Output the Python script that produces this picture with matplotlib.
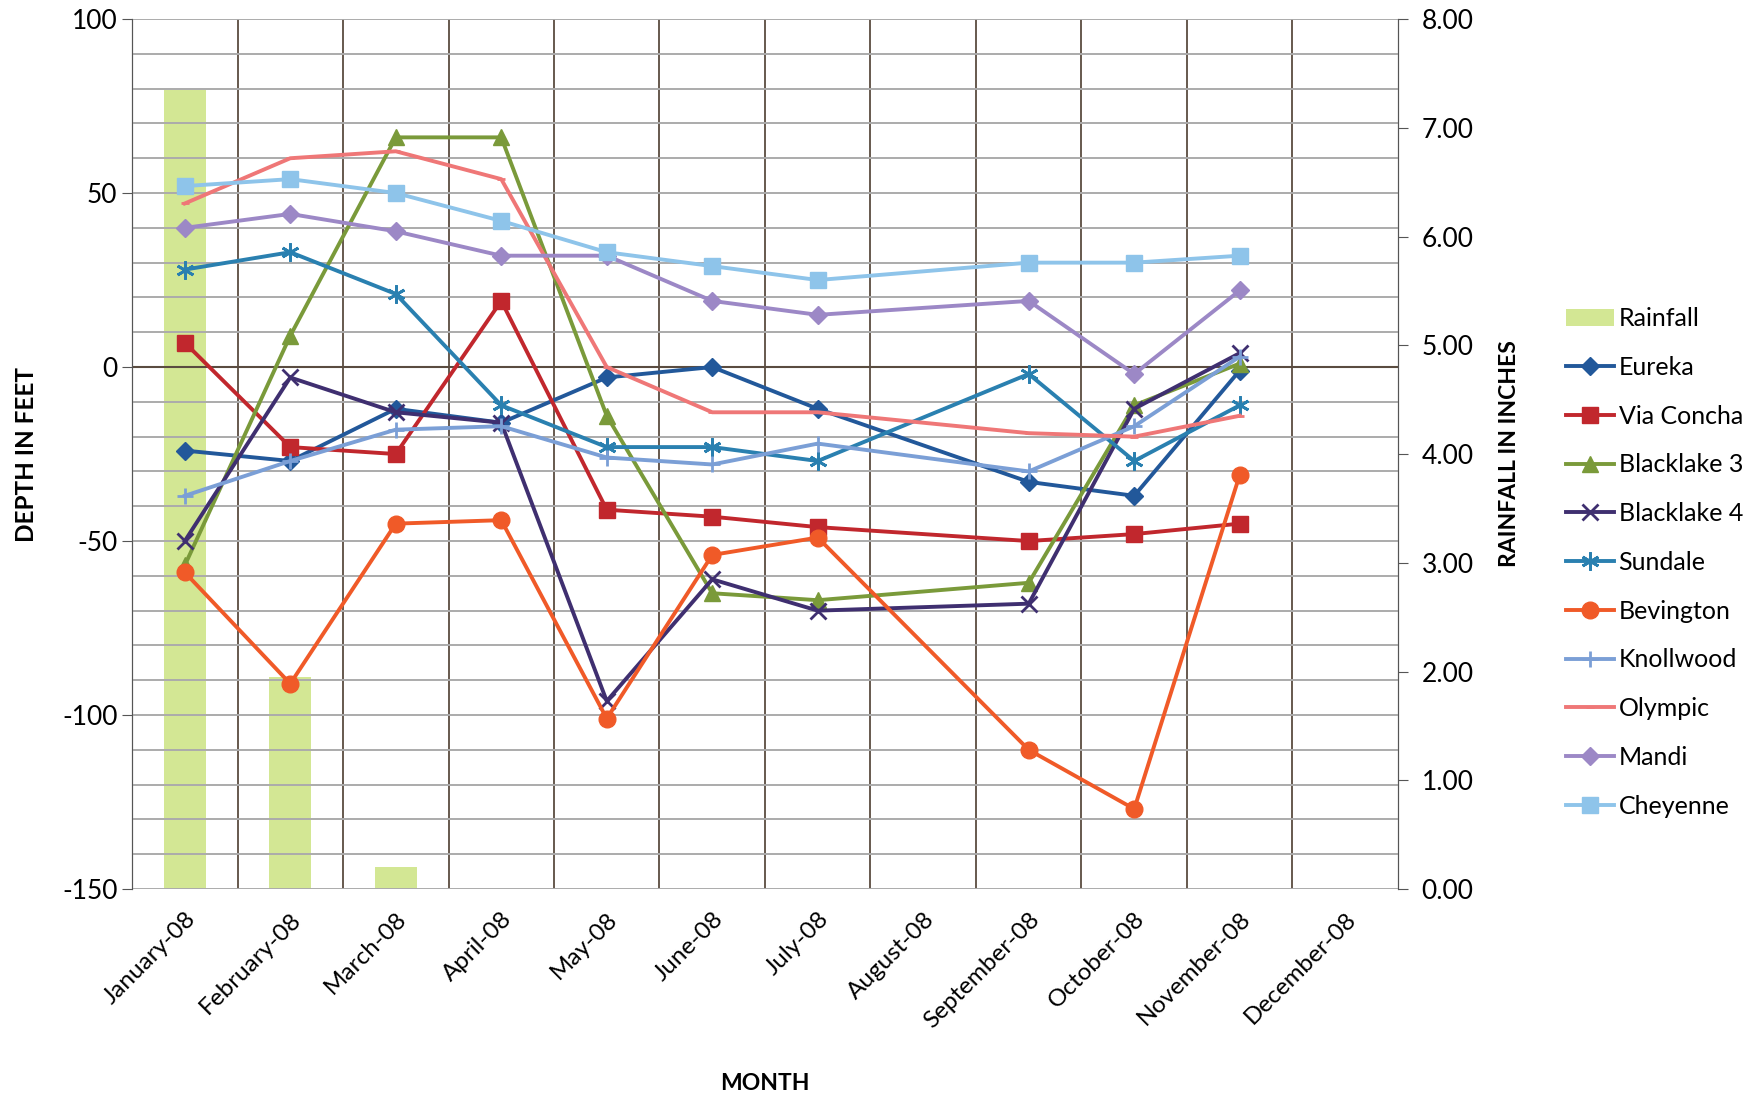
import numpy as np
import matplotlib
matplotlib.use("Agg")
import matplotlib.pyplot as plt
from matplotlib.ticker import MultipleLocator, FormatStrFormatter

plt.rcParams['font.family'] = ['Lato', 'DejaVu Sans']
plt.rcParams['axes.unicode_minus'] = False

# data (nan = no reading that month)
months = ['January-08', 'February-08', 'March-08', 'April-08', 'May-08', 'June-08',
          'July-08', 'August-08', 'September-08', 'October-08', 'November-08', 'December-08']
nan = np.nan
rainfall = [7.35, 1.95, 0.20, 0, 0, 0, 0, 0, 0, 0, 0, 0]

eureka = [-24, -27, -12, -16, -3, 0, -12, nan, -33, -37, -1, nan]
via_concha = [7, -23, -25, 19, -41, -43, -46, nan, -50, -48, -45, nan]
blacklake3 = [-57, 9, 66, 66, -14, -65, -67, nan, -62, -11, 1, nan]
blacklake4 = [-50, -3, -13, -16, -96, -61, -70, nan, -68, -12, 4, nan]
sundale = [28, 33, 21, -11, -23, -23, -27, nan, -2, -27, -11, nan]
bevington = [-59, -91, -45, -44, -101, -54, -49, nan, -110, -127, -31, nan]
knollwood = [-37, -27, -18, -17, -26, -28, -22, nan, -30, -17, 3, nan]
olympic = [47, 60, 62, 54, 0, -13, -13, nan, -19, -20, -14, nan]
mandi = [40, 44, 39, 32, 32, 19, 15, nan, 19, -2, 22, nan]
cheyenne = [52, 54, 50, 42, 33, 29, 25, nan, 30, 30, 32, nan]

series = [
    ('Eureka', eureka, '#22589a', 'D', 9),
    ('Via Concha', via_concha, '#c1272d', 's', 12),
    ('Blacklake 3', blacklake3, '#7a9a3a', '^', 11),
    ('Blacklake 4', blacklake4, '#3f2f70', 'x', 11),
    ('Sundale', sundale, '#2a80b0', (6, 2, 0), 13),
    ('Bevington', bevington, '#f05a28', 'o', 12),
    ('Knollwood', knollwood, '#7b9fd6', '+', 11),
    ('Olympic', olympic, '#ef7777', '_', 6),
    ('Mandi', mandi, '#9c88c6', 'D', 9),
    ('Cheyenne', cheyenne, '#8ec4ea', 's', 12),
]

fig = plt.figure(figsize=(17.58, 10.95), dpi=100)
ax2 = fig.add_axes([0.0751, 0.1881, 0.7201, 0.7945])
ax = ax2.twinx()
ax.yaxis.tick_left()
ax.yaxis.set_label_position('left')
ax2.yaxis.tick_right()
ax2.yaxis.set_label_position('right')
ax.set_zorder(ax2.get_zorder() + 1)
ax.patch.set_visible(False)

x = np.arange(len(months))

# rainfall bars on the right axis
bars = ax2.bar(x, rainfall, width=0.4, color='#d3e794', label='Rainfall', zorder=1)
ax2.set_ylim(0, 8)
ax2.set_xlim(-0.5, 11.5)
ax2.yaxis.set_major_locator(MultipleLocator(1))
ax2.yaxis.set_major_formatter(FormatStrFormatter('%.2f'))
ax2.set_ylabel('RAINFALL IN INCHES', fontsize=16.5, fontweight='bold')
ax2.yaxis.set_label_coords(1.080, 0.50)

# month boundaries (vertical grid) live on the bar axes, the twin's x axis is hidden
ax2.set_xticks(x)
ax2.set_xticks(np.arange(0.5, 11.5, 1), minor=True)
ax2.set_xticklabels(months, rotation=45, ha='right', rotation_mode='anchor', fontsize=17.5)
ax2.tick_params(axis='x', which='both', length=0, pad=14)
ax2.grid(True, axis='x', which='minor', color='#5a4c40', lw=1.3, zorder=0)
ax2.set_xlabel('MONTH', fontsize=16.5, fontweight='bold')
ax2.xaxis.set_label_coords(0.5, -0.212)

# well depths on the left axis
handles = [bars]
for name, vals, color, marker, ms in series:
    v = np.array(vals, dtype=float)
    ok = ~np.isnan(v)
    mew = 2 if marker in ('x', '+', (6, 2, 0), '_') else 1
    line, = ax.plot(x[ok], v[ok], color=color, lw=2.8, marker=marker, ms=ms,
                    mec=color, mfc=color, mew=mew, label=name, zorder=3)
    handles.append(line)

ax.set_ylim(-150, 100)
ax.yaxis.set_major_locator(MultipleLocator(50))
ax.yaxis.set_minor_locator(MultipleLocator(10))
ax.grid(True, axis='y', which='both', color='#ababab', lw=1.4, zorder=0)
ax.axhline(0, color='#5a4c40', lw=1.5, zorder=2)

ax.tick_params(axis='y', which='major', labelsize=19, length=7, color='#555555')
ax.tick_params(axis='y', which='minor', length=0)
ax2.tick_params(axis='y', labelsize=19, length=7, color='#555555', pad=10)
ax.set_ylabel('DEPTH IN FEET', fontsize=17.5, fontweight='bold')
ax.yaxis.set_label_coords(-0.074, 0.50)

for a in (ax, ax2):
    for side in ('top', 'bottom'):
        a.spines[side].set_visible(False)
    a.spines['left'].set_color('#555555')
    a.spines['right'].set_color('#555555')

fig.legend(handles=handles, labels=[h.get_label() for h in handles],
           loc='upper left', bbox_to_anchor=(0.878, 0.740), frameon=False,
           fontsize=18, labelspacing=1.03, handlelength=1.9, handletextpad=0.2)

fig.savefig('out.png', dpi=100)
